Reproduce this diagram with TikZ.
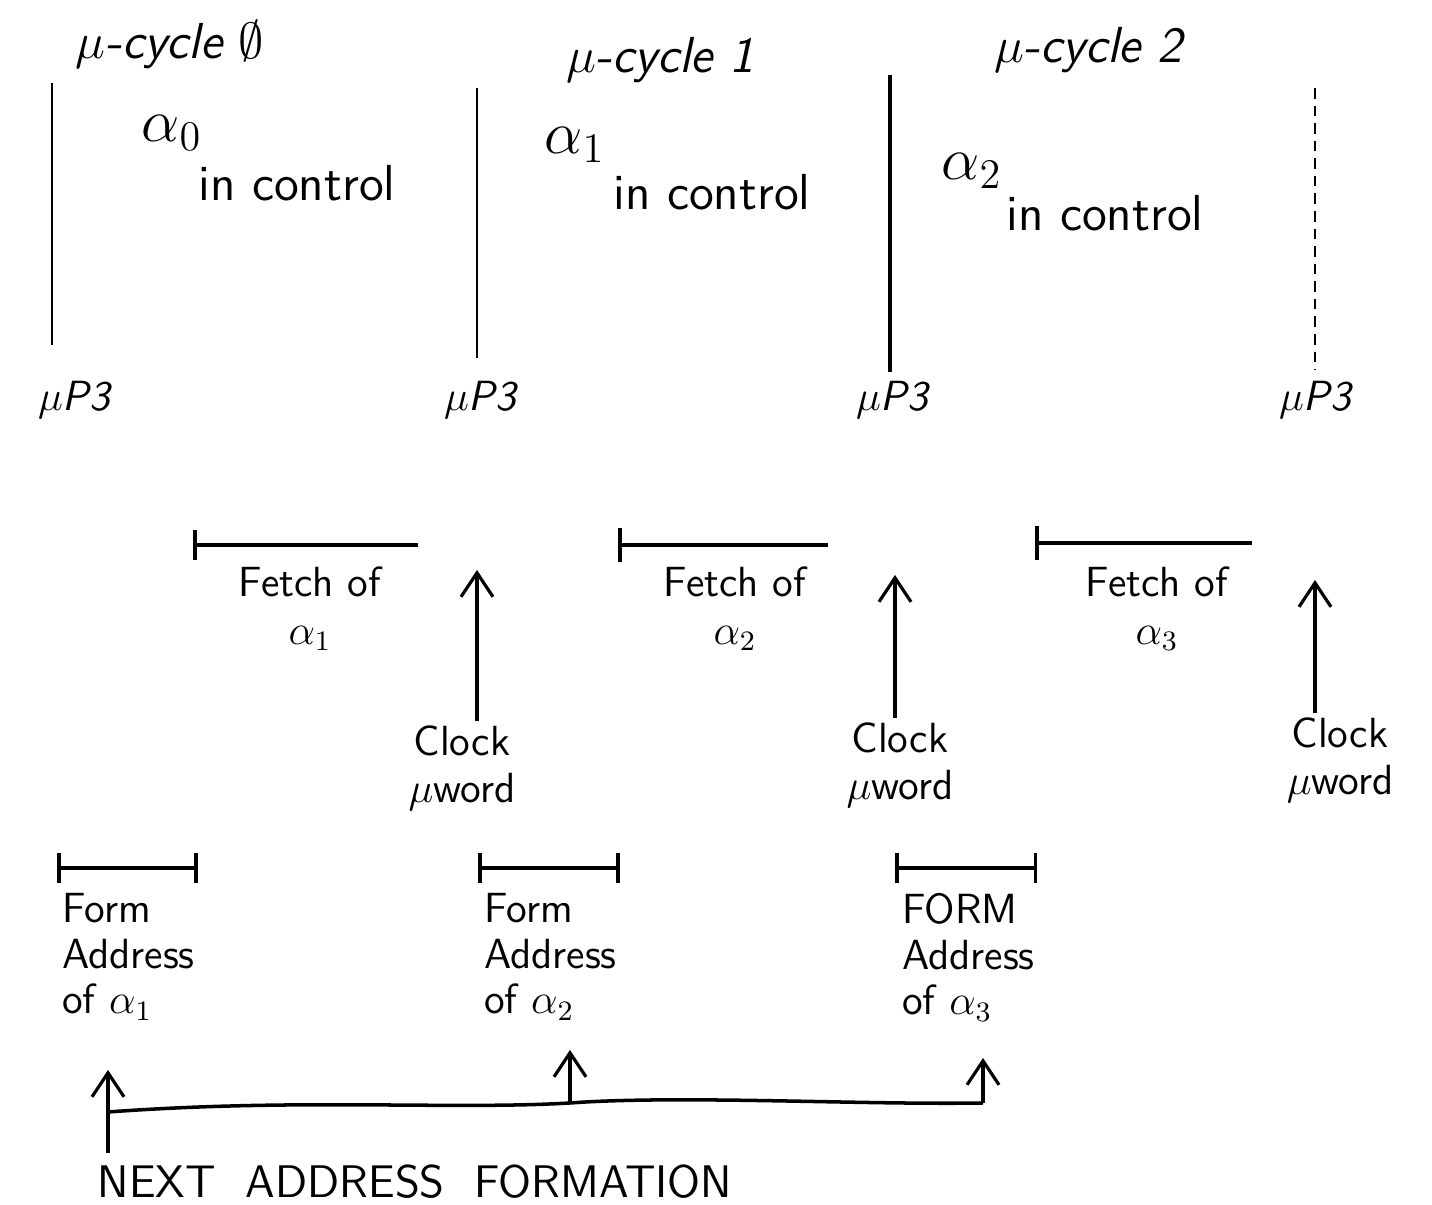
\documentclass[tikz,border=0pt]{standalone}
\usepackage{amsmath,amssymb}
\usepackage{tikz}
\usetikzlibrary{arrows.meta,positioning,calc}

\begin{document}
\begin{tikzpicture}[
  node distance=0.2cm,
  cyc/.style={font=\Large\sffamily\itshape,inner sep=1pt},
  ctl/.style={font=\Large\sffamily,inner sep=1pt},
  tag/.style={font=\large\sffamily\itshape,inner sep=1pt},
  note/.style={font=\fontsize{12}{13.5}\selectfont\sffamily,align=center,inner sep=1pt},
  form/.style={font=\fontsize{12}{13}\selectfont\sffamily,align=left,anchor=north west,inner sep=1pt},
  border/.style={line width=0.6pt},
  span/.style={line width=1pt},
  arrow/.style={-{Straight Barb[length=2.4mm,width=3.2mm]},line width=0.9pt}
]
\useasboundingbox (0,0) rectangle (14.32,12.05);

% micro-cycles and who is in control
\node[cyc] (cyc0) at (1.70,11.60) {$\mu$-cycle $\emptyset$};
\node[cyc] (cyc1) at (6.60,11.45) {$\mu$-cycle 1};
\node[cyc] (cyc2) at (10.88,11.55) {$\mu$-cycle 2};
\node[ctl,font=\LARGE] (a0) at (1.72,10.72) {$\alpha_0$};
\node[ctl] (ctl0) at (2.97,10.22) {in control};
\node[ctl,font=\LARGE] (a1) at (5.75,10.60) {$\alpha_1$};
\node[ctl] (ctl1) at (7.12,10.13) {in control};
\node[ctl,font=\LARGE] (a2) at (9.72,10.34) {$\alpha_2$};
\node[ctl] (ctl2) at (11.05,9.92) {in control};

% cycle borders at uP3
\node[tag] (p0) at (0.74,8.05) {$\mu$P3};
\node[tag] (p1) at (4.80,8.05) {$\mu$P3};
\node[tag] (p2) at (8.92,8.05) {$\mu$P3};
\node[tag] (p3) at (13.15,8.05) {$\mu$P3};
\coordinate (top0) at (0.52,11.22);
\coordinate (top1) at (4.77,11.17);
\coordinate (top2) at (8.90,11.30);
\coordinate (top3) at (13.15,11.17);
\draw[border,line width=0.5pt] (top0) -- (top0 |- 0,8.60);
\draw[border] (top1) -- (top1 |- 0,8.47);
\draw[border,line width=1.2pt] (top2) -- (top2 |- 0,8.33);
\draw[border,line width=0.4pt,dash pattern=on 3pt off 2pt] (top3) -- (top3 |- 0,8.35);

% fetches
\coordinate (f1a) at (1.93,6.60); \coordinate (f1b) at (4.18,6.60);
\coordinate (f2a) at (6.18,6.60); \coordinate (f2b) at (8.28,6.60);
\coordinate (f3a) at (10.35,6.62); \coordinate (f3b) at (12.52,6.62);
\draw[span,{Bar[width=3mm]}-] (f1a) -- (f1b);
\draw[span,{Bar[width=3.4mm]}-] (f2a) -- (f2b);
\draw[span,{Bar[width=3.4mm]}-] (f3a) -- (f3b);
\node[note,anchor=north] (fetch1) at (3.10,6.42) {Fetch of\\$\alpha_1$};
\node[note,anchor=north] (fetch2) at (7.35,6.42) {Fetch of\\$\alpha_2$};
\node[note,anchor=north] (fetch3) at (11.57,6.42) {Fetch of\\$\alpha_3$};

% clocking the microword
\node[note] (clk1) at (4.62,4.37) {Clock\\$\mu$word};
\node[note] (clk2) at (9.00,4.40) {Clock\\$\mu$word};
\node[note] (clk3) at (13.40,4.45) {Clock\\$\mu$word};
\coordinate (t1) at (4.77,6.35);
\coordinate (t2) at (8.95,6.30);
\coordinate (t3) at (13.15,6.25);
\draw[arrow] (clk1.north -| t1) -- (t1);
\draw[arrow] (clk2.north -| t2) -- (t2);
\draw[arrow] (clk3.north -| t3) -- (t3);

% address formation
\coordinate (g1a) at (0.57,3.37); \coordinate (g1b) at (1.98,3.37);
\coordinate (g2a) at (4.78,3.37); \coordinate (g2b) at (6.20,3.37);
\coordinate (g3a) at (8.95,3.37); \coordinate (g3b) at (10.37,3.37);
\draw[span,{Bar[width=3mm]}-{Bar[width=3mm]}] (g1a) -- (g1b);
\draw[span,{Bar[width=3mm]}-{Bar[width=3mm]}] (g2a) -- (g2b);
\draw[span,{Bar[width=3mm]}-{Bar[width=3mm]}] (g3a) -- (g3b);
\node[form] (addr1) at (0.58,3.16) {Form\\Address\\of $\alpha_1$};
\node[form] (addr2) at (4.80,3.16) {Form\\Address\\of $\alpha_2$};
\node[form] (addr3) at (8.98,3.16) {FORM\\Address\\of $\alpha_3$};

% next address bus
\node[font=\fontsize{13}{15}\selectfont\sffamily] (naf) at (4.15,0.23) {NEXT\ \ ADDRESS\ \ FORMATION};
\coordinate (b0) at (1.08,0.93);
\coordinate (b1) at (5.70,1.02);
\coordinate (b2) at (9.83,1.02);
\coordinate (u0) at (1.08,1.35);
\coordinate (u1) at (5.70,1.55);
\coordinate (u2) at (9.83,1.47);
\draw[span] (b0) .. controls (3.0,1.07) and (4.5,0.95) .. (b1) .. controls (6.8,1.10) and (8.6,1.00) .. (b2);
\draw[arrow] (naf.north -| u0) -- (u0);
\draw[arrow] (b1) -- (u1);
\draw[arrow] (b2) -- (u2);
\end{tikzpicture}
\end{document}
